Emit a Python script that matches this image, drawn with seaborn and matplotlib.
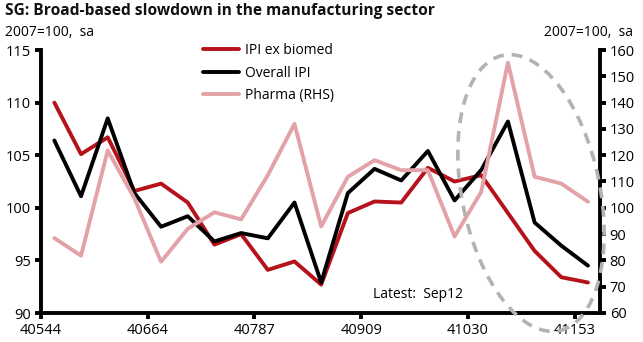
import numpy as np
import pandas as pd
import matplotlib
matplotlib.use("Agg")
import matplotlib.pyplot as plt
from matplotlib.patches import Ellipse
import seaborn as sns

# Monthly observations, Jan 2011 - Sep 2012
ipi_ex_biomed = [110.0, 105.1, 106.7, 101.6, 102.3, 100.5, 96.5, 97.5, 94.1, 94.9, 92.7,
                 99.5, 100.6, 100.5, 103.8, 102.5, 103.1, 99.5, 95.9, 93.4, 92.9]
overall_ipi = [106.4, 101.1, 108.5, 101.4, 98.2, 99.2, 96.8, 97.6, 97.1, 100.5, 92.9,
               101.4, 103.7, 102.6, 105.4, 100.7, 103.6, 108.2, 98.6, 96.4, 94.5]
pharma = [88.5, 81.8, 121.8, 103.6, 79.5, 92.0, 98.3, 95.6, 112.4, 131.9, 92.9,
          111.8, 118.1, 114.3, 114.3, 89.1, 106.1, 155.2, 111.8, 109.2, 102.3]
tick_labels = ["40544", "40664", "40787", "40909", "41030", "41153"]
left_ticks = [90, 95, 100, 105, 110, 115]
right_ticks = [60, 70, 80, 90, 100, 110, 120, 130, 140, 150, 160]

RED = "#b5121b"
BLACK = "#000000"
PINK = "#e3a1a8"
FONT = "Open Sans"

sns.set_theme(style="white")
plt.rcParams["font.family"] = [FONT, "DejaVu Sans"]

n = len(overall_ipi)
df = pd.DataFrame({
    "pos": np.arange(n),
    "IPI ex biomed": ipi_ex_biomed,
    "Overall IPI": overall_ipi,
    "Pharma (RHS)": pharma,
})

W, H = 643, 342
fig = plt.figure(figsize=(W / 100, H / 100), dpi=100)
ax = fig.add_axes([41 / W, 1 - 313 / H, (600 - 41) / W, (313 - 50) / H])
ax2 = ax.twinx()

lw = 2.8
sns.lineplot(data=df, x="pos", y="IPI ex biomed", ax=ax, color=RED, lw=lw, label="IPI ex biomed", legend=False)
sns.lineplot(data=df, x="pos", y="Overall IPI", ax=ax, color=BLACK, lw=lw, label="Overall IPI", legend=False)
sns.lineplot(data=df, x="pos", y="Pharma (RHS)", ax=ax2, color=PINK, lw=lw, label="Pharma (RHS)", legend=False)

ax.set_xlim(-0.5, n - 0.55)
ax.set_ylim(90, 115)
ax2.set_ylim(60, 160)
ax.set_xticks([-0.5 + 4 * i for i in range(len(tick_labels))])
ax.set_xticklabels(tick_labels)
ax.set_yticks(left_ticks)
ax2.set_yticks(right_ticks)
ax.set_xlabel("")
ax.set_ylabel("")
ax2.set_ylabel("")

for a in (ax, ax2):
    for s in a.spines.values():
        s.set_visible(False)
    a.grid(False)
ax.spines["left"].set_visible(True)
ax.spines["bottom"].set_visible(True)
ax2.spines["right"].set_visible(True)
for s in (ax.spines["left"], ax.spines["bottom"], ax2.spines["right"]):
    s.set_linewidth(2.8)
    s.set_color("black")

ax.tick_params(axis="x", direction="out", length=4, width=2.8, color="black",
               labelsize=10.5, pad=3, bottom=True)
ax.tick_params(axis="y", direction="out", length=4, width=2.8, color="black",
               labelsize=10.5, pad=3, left=True)
ax2.tick_params(axis="y", direction="out", length=4, width=2.8, color="black",
                labelsize=10.5, pad=3, right=True)
for lab in ax.get_xticklabels() + ax.get_yticklabels() + ax2.get_yticklabels():
    lab.set_color("black")

# Legend combining both axes
h1, l1 = ax.get_legend_handles_labels()
h2, l2 = ax2.get_legend_handles_labels()
leg = ax2.legend(h1 + h2, l1 + l2, loc="upper left",
                 bbox_to_anchor=(203 / W, 1 - 43 / H), bbox_transform=fig.transFigure,
                 frameon=False, fontsize=10, handlelength=2.6, handletextpad=0.4,
                 labelspacing=0.55, borderpad=0, borderaxespad=0)
for t in leg.get_texts():
    t.set_color("black")

# Highlight around the latest months
ell = Ellipse((5.31, (H - 193) / 100), width=1.38, height=2.81, angle=11.5,
              transform=fig.dpi_scale_trans, fill=False, edgecolor="#b3b3b3",
              lw=2.6, ls=(0, (3, 2.2)), clip_on=False, zorder=5)
fig.add_artist(ell)

fig.text(5 / W, 1 - 11 / H, "SG: Broad-based slowdown in the manufacturing sector",
         fontsize=11.2, fontweight="bold", ha="left", va="center", color="#111111")
fig.text(5 / W, 1 - 33 / H, "2007=100,  sa", fontsize=10, ha="left", va="center", color="black")
fig.text(633 / W, 1 - 33 / H, "2007=100,  sa", fontsize=10, ha="right", va="center", color="black")
fig.text(373 / W, 1 - 295 / H, "Latest:  Sep12", fontsize=10, ha="left", va="center", color="black")

fig.savefig("out.png", dpi=100)
